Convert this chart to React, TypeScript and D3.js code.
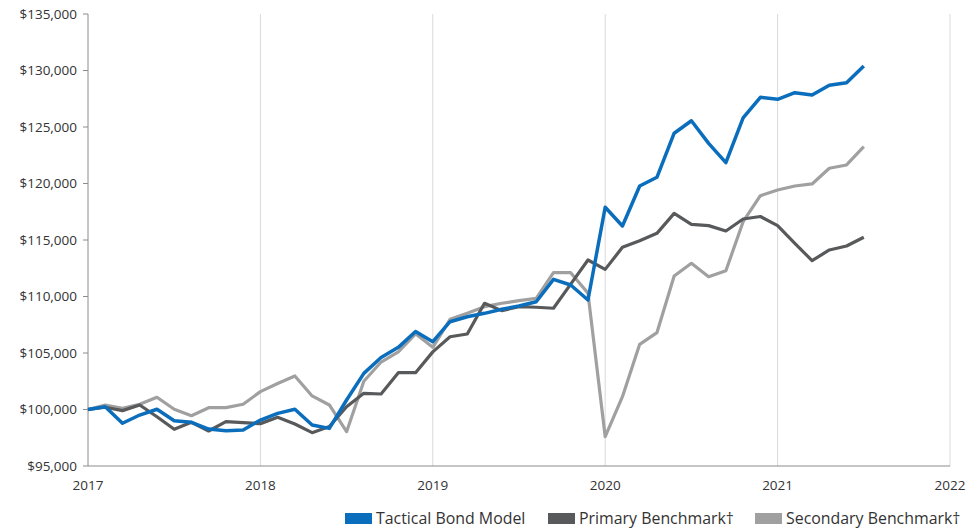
import React from "react";
import * as d3 from "d3";

const yearLabels = ["2017", "2018", "2019", "2020", "2021", "2022"];
const yTicks = [95000, 100000, 105000, 110000, 115000, 120000, 125000, 130000, 135000];

const tactical = [
  100000, 100250, 98780, 99510, 100020, 99010, 98870, 98270, 98120, 98190,
  99070, 99660, 100020, 98630, 98330, 100840, 103200, 104600, 105500, 106900,
  106000, 107770, 108210, 108510, 108870, 109160, 109540, 111520, 111020, 109690,
  117895, 116240, 119780, 120550, 124450, 125550, 123550, 121840, 125800, 127630,
  127450, 128040, 127830, 128690, 128920, 130400,
];
const primary = [
  100000, 100200, 99900, 100400, 99360, 98250, 98870, 98100, 98920, 98830,
  98750, 99310, 98720, 97950, 98490, 100250, 101430, 101370, 103260, 103260,
  105100, 106440, 106680, 109400, 108750, 109100, 109050, 108960, 111100, 113230,
  112400, 114350, 114940, 115590, 117360, 116390, 116270, 115800, 116860, 117080,
  116270, 114710, 113170, 114120, 114470, 115240,
];
const secondary = [
  100000, 100400, 100100, 100460, 101080, 100020, 99450, 100160, 100160, 100460,
  101580, 102300, 102970, 101200, 100400, 98040, 102500, 104200, 105100, 106700,
  105500, 107980, 108510, 109100, 109400, 109630, 109840, 112110, 112110, 110300,
  97590, 101130, 105770, 106800, 111810, 112940, 111750, 112280, 116620, 118920,
  119420, 119780, 119960, 121350, 121640, 123260,
];

const seriesNames = ["Tactical Bond Model", "Primary Benchmark\u2020", "Secondary Benchmark\u2020"];
const seriesColors = ["#0a6ebd", "#58595b", "#a0a0a0"];
const seriesData = [tactical, primary, secondary];

const W = 979;
const H = 529;
const left = 88;
const right = 950;
const top = 14;
const bottom = 466;
const pointsPerYear = 10;

export default function App() {
  const x = d3.scaleLinear().domain([0, (yearLabels.length - 1) * pointsPerYear]).range([left, right]);
  const y = d3.scaleLinear().domain([95000, 135000]).range([bottom, top]);
  const line = d3
    .line<number>()
    .x((_, i) => x(i))
    .y((d) => y(d));
  const fmt = (v: number) => "$" + d3.format(",")(v);
  const font = "'Open Sans', 'Noto Sans', sans-serif";
  const order = [2, 1, 0];
  const legendX = [345, 548, 755];

  return (
    <svg
      width={W}
      height={H}
      style={{ position: "absolute", left: 0, top: 0, background: "#fff" }}
      fontFamily={font}
    >
      {yearLabels.map((lab, k) =>
        k > 0 ? (
          <line
            key={"g" + lab}
            x1={x(k * pointsPerYear)}
            x2={x(k * pointsPerYear)}
            y1={top}
            y2={bottom}
            stroke="#d9d9d9"
            strokeWidth={1}
          />
        ) : null
      )}
      <line x1={left} x2={right} y1={bottom} y2={bottom} stroke="#8c8c8c" strokeWidth={1} />
      <line x1={left} x2={left} y1={top} y2={bottom} stroke="#8c8c8c" strokeWidth={1} />
      {yTicks.map((t) => (
        <g key={"y" + t}>
          <line x1={left - 5} x2={left} y1={y(t)} y2={y(t)} stroke="#8c8c8c" strokeWidth={1} />
          <text x={left - 11} y={y(t)} dy="0.35em" textAnchor="end" fontSize={13.5} fill="#333">
            {fmt(t)}
          </text>
        </g>
      ))}
      {yearLabels.map((lab, k) => (
        <text
          key={"x" + lab}
          x={x(k * pointsPerYear)}
          y={bottom + 24}
          textAnchor="middle"
          fontSize={13.5}
          fill="#333"
        >
          {lab}
        </text>
      ))}
      {order.map((s) => (
        <path
          key={"s" + s}
          d={line(seriesData[s]) || ""}
          fill="none"
          stroke={seriesColors[s]}
          strokeWidth={s === 0 ? 3.5 : 3.2}
          strokeLinejoin="round"
        />
      ))}
      {seriesNames.map((n, s) => (
        <g key={"l" + s}>
          <rect x={legendX[s]} y={513} width={27} height={11} fill={seriesColors[s]} />
          <text x={legendX[s] + 31} y={518.5} dy="0.35em" fontSize={15.9} fill="#333">
            {n}
          </text>
        </g>
      ))}
    </svg>
  );
}
